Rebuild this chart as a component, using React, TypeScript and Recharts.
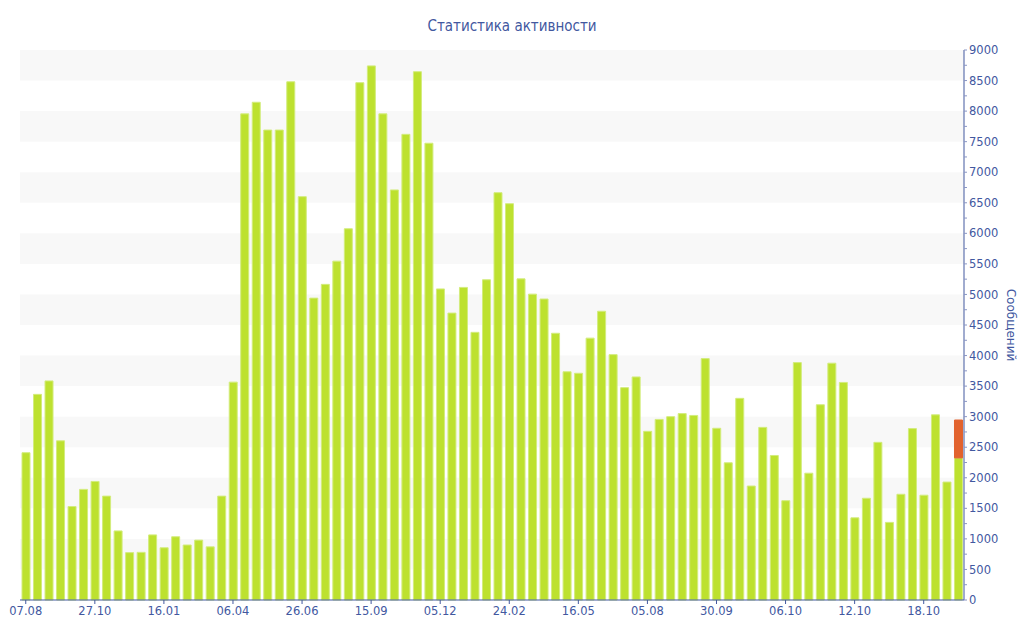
import { BarChart, Bar, XAxis, YAxis, ReferenceArea } from 'recharts';

const tickLabels = ['07.08', '27.10', '16.01', '06.04', '26.06', '15.09', '05.12', '24.02', '16.05', '05.08', '30.09', '06.10', '12.10', '18.10'];

// messages per period
const messages = [
  2410, 3365, 3585, 2605, 1530, 1810, 1940, 1700, 1130, 775,
  780, 1065, 855, 1035, 900, 980, 870, 1700, 3565, 7955,
  8145, 7690, 7690, 8480, 6600, 4940, 5165, 5545, 6075, 8465,
  8740, 7955, 6710, 7620, 8645, 7475, 5090, 4695, 5115, 4380,
  5240, 6665, 6485, 5255, 5005, 4925, 4365, 3735, 3710, 4285,
  4725, 4015, 3475, 3650, 2760, 2955, 3000, 3050, 3020, 3950,
  2810, 2245, 3300, 1865, 2825, 2365, 1625, 3885, 2075, 3195,
  3875, 3560, 1345, 1665, 2580, 1270, 1730, 2805, 1715, 3030,
  1930, 2325,
];

// orange part on top of the current (last) bar
const currentPending = 620;

const bandStarts = [500, 1500, 2500, 3500, 4500, 5500, 6500, 7500, 8500];
const yTicks = Array.from({ length: 37 }, (_, i) => i * 250);

const data = messages.map((v, i) => ({
  label: i % 6 === 0 ? tickLabels[i / 6] : '',
  messages: v,
  pending: i === messages.length - 1 ? currentPending : 0,
}));

const blue = '#42589f';
const axisFont = { fill: blue, fontSize: 11.5, fontFamily: 'DejaVu Sans, Verdana, sans-serif' };

function YTitle(props: any) {
  const vb = props.viewBox || { x: 964, y: 50, width: 50, height: 550 };
  const x = vb.x + vb.width - 3;
  const y = vb.y + vb.height / 2;
  return (
    <text
      x={x}
      y={y}
      transform={`rotate(90, ${x}, ${y})`}
      textAnchor="middle"
      dominantBaseline="central"
      fill={blue}
      fontSize={12}
      fontFamily="DejaVu Sans, Verdana, sans-serif"
    >
      Сообщений
    </text>
  );
}

export default function App() {
  return (
    <div style={{ position: 'absolute', left: 0, top: 0, width: 1024, height: 640, background: '#fff' }}>
      <div
        style={{
          position: 'absolute',
          top: 17,
          left: 0,
          width: 1024,
          textAlign: 'center',
          color: blue,
          fontSize: 15,
          fontFamily: '"DejaVu Sans Condensed", "DejaVu Sans", sans-serif',
        }}
      >
        Статистика активности
      </div>
      <BarChart
        width={1024}
        height={640}
        data={data}
        margin={{ top: 50, right: 10, bottom: 16, left: 20 }}
        barCategoryGap={2}
      >
        {bandStarts.map((s) => (
          <ReferenceArea key={s} y1={s} y2={s + 500} fill="#f8f8f8" fillOpacity={1} stroke="none" ifOverflow="hidden" />
        ))}
        <XAxis
          dataKey="label"
          interval={5}
          height={24}
          tick={axisFont}
          tickSize={4}
          tickMargin={3}
          stroke={blue}
          axisLine={{ stroke: blue }}
          tickLine={{ stroke: blue }}
        />
        <YAxis
          orientation="right"
          width={50}
          domain={[0, 9000]}
          ticks={yTicks}
          interval={0}
          tickFormatter={(v: number) => (v % 500 === 0 ? String(v) : '')}
          tick={axisFont}
          tickSize={3}
          tickMargin={2}
          stroke={blue}
          axisLine={{ stroke: blue }}
          tickLine={{ stroke: '#8a96c4' }}
          label={{ content: (p: any) => <YTitle {...p} /> }}
        />
        <Bar dataKey="messages" stackId="a" fill="#bde12f" stroke="#d3ec7d" strokeWidth={1} barSize={8} isAnimationActive={false} />
        <Bar dataKey="pending" stackId="a" fill="#e2632e" stroke="#e2632e" strokeWidth={1} barSize={8} isAnimationActive={false} />
      </BarChart>
    </div>
  );
}
